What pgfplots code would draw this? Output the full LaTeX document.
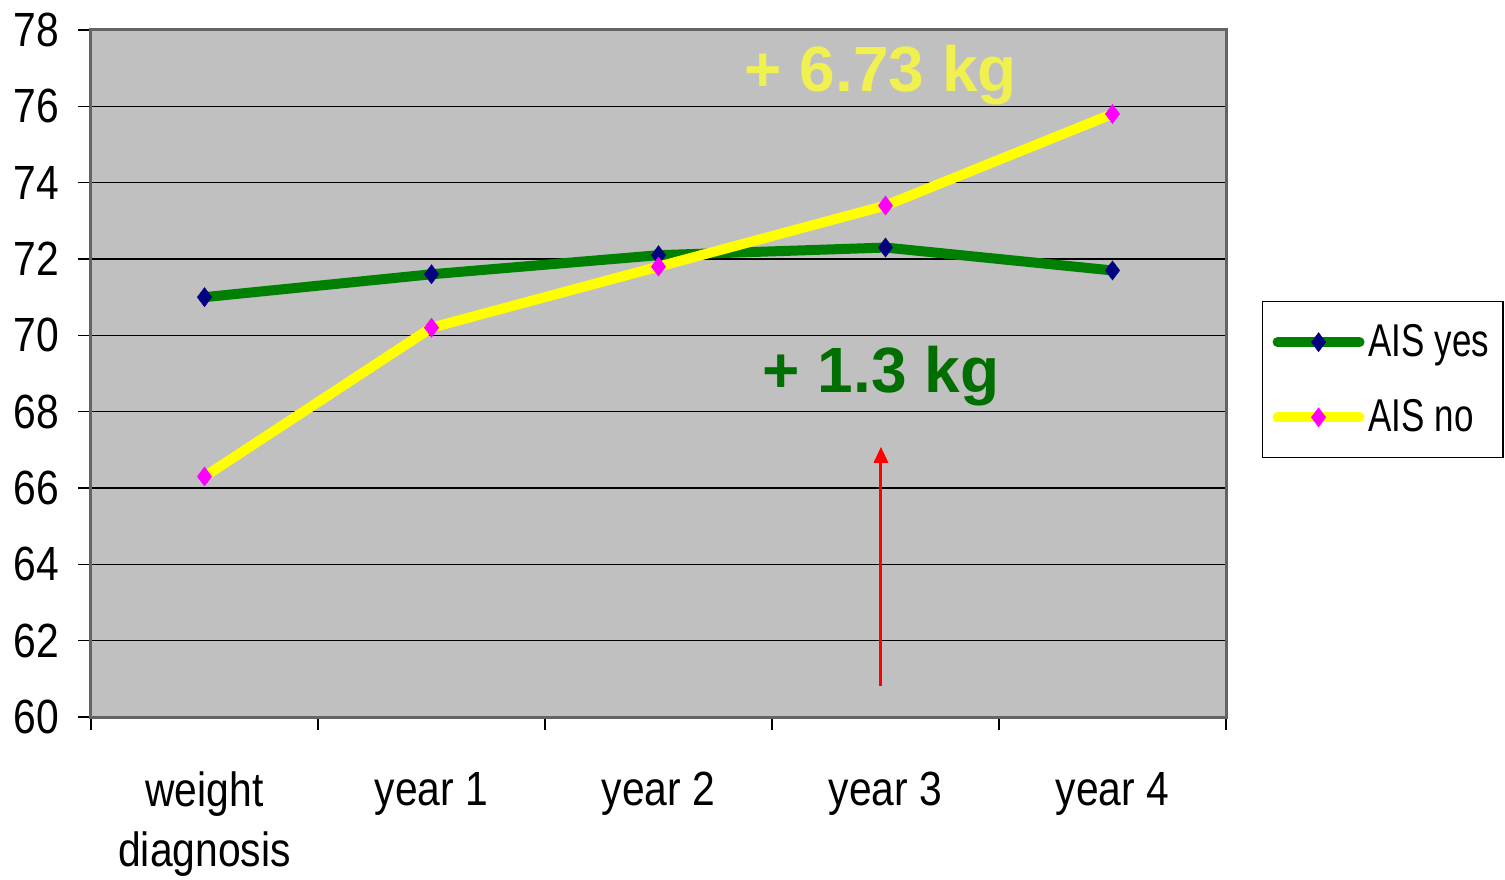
\documentclass[border=0pt]{standalone}
\usepackage{pgfplots}
\pgfplotsset{compat=1.18}
\usepackage{fontspec}
\setmainfont{Liberation Sans}[FakeStretch=0.85]
\newfontfamily\annfont{Liberation Sans}
\newfontfamily\legfont{Liberation Sans}[FakeStretch=0.76]
\usetikzlibrary{arrows.meta}
\definecolor{plotbg}{RGB}{192,192,192}
\definecolor{aisyes}{RGB}{0,128,0}
\definecolor{aisyesmark}{RGB}{0,0,128}
\definecolor{aisno}{RGB}{255,255,0}
\definecolor{aisnomark}{RGB}{255,0,255}
\definecolor{anny}{RGB}{240,240,80}
\definecolor{anng}{RGB}{0,110,0}
\definecolor{frame}{RGB}{100,100,100}
\begin{document}
\begin{tikzpicture}
\begin{axis}[
  name=ax,
  scale only axis, width=567.5pt, height=343.5pt,
  xmin=-0.5, xmax=4.5, ymin=60, ymax=78,
  axis background/.style={fill=plotbg},
  xtick={-0.5,0.5,...,4.5},
  x tick label as interval,
  xticklabels={{weight\\diagnosis},{year 1},{year 2},{year 3},{year 4}},
  xticklabel style={align=center, font=\fontsize{24}{30}\selectfont, yshift=-17.5pt},
  ytick={60,62,...,78},
  yticklabel style={font=\fontsize{24}{30}\selectfont, xshift=-6pt, /pgf/number format/assume math mode=true},
  xtick pos=bottom, ytick pos=left,
  tick align=outside,
  major tick length=6.5pt,
  tick style={black, line width=0.6pt},
  ymajorgrids, grid style={black, line width=0.6pt},
  axis line style={draw=frame, line width=1.5pt},
  clip=false,
  legend style={at={(axis description cs:1.0317,0.6055)}, anchor=north west,
    draw=black, line width=0.6pt, fill=white,
    font=\legfont\fontsize{23}{26}\selectfont, row sep=16pt,
    inner xsep=5pt, inner ysep=9.5pt},
  legend cell align=left,
  legend image code/.code={\draw[mark repeat=2, mark phase=2, line cap=round]
    plot coordinates {(0pt,0pt) (20.5pt,0pt) (41pt,0pt)};},
]
\addplot[aisyes, line width=5pt, mark=diamond*, mark size=4.8pt,
  mark options={fill=aisyesmark, draw=aisyesmark, line width=0.2pt}]
  coordinates {(0,71.0) (1,71.6) (2,72.1) (3,72.3) (4,71.7)};
\addlegendentry{AIS yes}
\addplot[aisno, line width=5pt, mark=diamond*, mark size=4.8pt,
  mark options={fill=aisnomark, draw=aisnomark, line width=0.2pt}]
  coordinates {(0,66.3) (1,70.2) (2,71.8) (3,73.4) (4,75.8)};
\addlegendentry{AIS no}
\draw[red, line width=1.5pt, -{Triangle[width=7pt,length=8pt]}]
  (axis cs:2.98,60.81) -- (axis cs:2.98,67.08);
\node[text=anny, font=\annfont\bfseries\fontsize{32}{36}\selectfont] at (axis cs:2.98,76.82) {+ 6.73 kg};
\node[text=anng, font=\annfont\bfseries\fontsize{32}{36}\selectfont] at (axis cs:2.98,68.93) {+ 1.3 kg};
\end{axis}
\pgfresetboundingbox
\path[use as bounding box] ([shift={(-45.5pt,-81pt)}]ax.south west) rectangle ([shift={(707pt,358.5pt)}]ax.south west);
\end{tikzpicture}
\end{document}
